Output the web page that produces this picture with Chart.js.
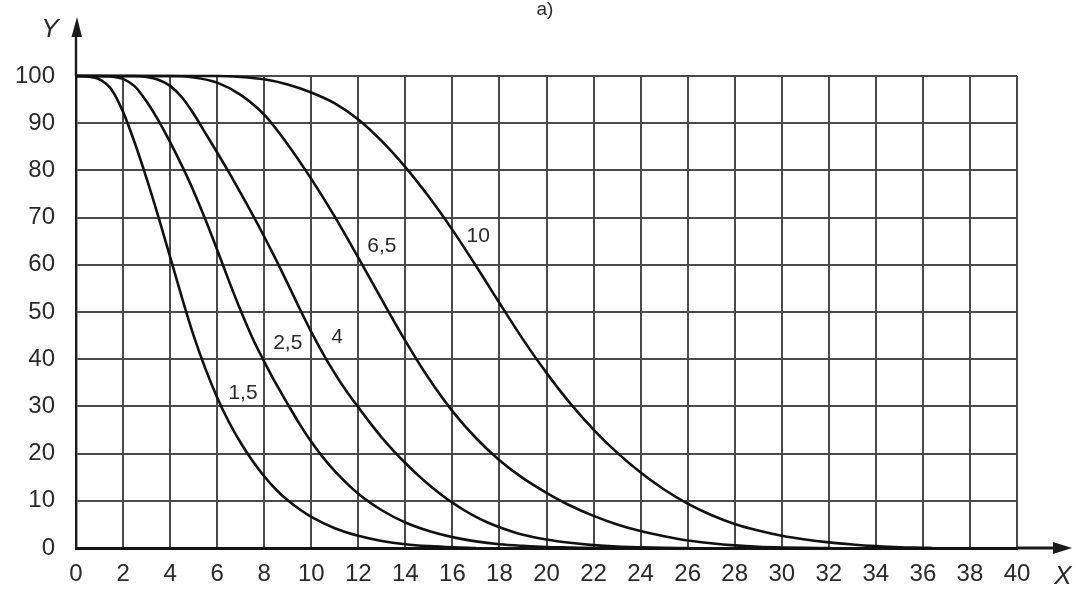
<!DOCTYPE html>
<html>
<head>
<meta charset="utf-8">
<script src="https://cdn.jsdelivr.net/npm/chart.js@4/dist/chart.umd.min.js"></script>
<style>
  html, body { margin: 0; padding: 0; background: #ffffff; }
  #wrap { width: 1076px; height: 592px; position: relative; }
</style>
</head>
<body>
<div id="wrap"><canvas id="c" width="1076" height="592"></canvas></div>
<script>
// ---- Data ----
const xTicks = [0,2,4,6,8,10,12,14,16,18,20,22,24,26,28,30,32,34,36,38,40];
const yTicks = [0,10,20,30,40,50,60,70,80,90,100];

const curveNames = ['1,5', '2,5', '4', '6,5', '10'];

const curve15X = [0,0.5,1,1.5,2,2.5,3,3.5,4,4.5,5,5.5,6,6.5,7,7.5,8,8.5,9,9.5,10,11,12,13,14,15,16,17];
const curve15Y = [100,99.9,99.3,97.2,92.4,85.8,78.3,70.2,61.7,53.1,45.0,38.0,31.9,26.7,22.3,18.5,15.2,12.4,10.1,8.2,6.6,4.2,2.6,1.5,0.8,0.4,0.15,0];

const curve25X = [0,1,1.5,2,2.5,3,3.5,4,4.5,5,5.5,6,6.5,7,7.5,8,8.5,9,9.5,10,10.5,11,12,13,14,15,16,17,18,19,20,21,22];
const curve25Y = [100,100,99.9,99.4,97.8,94.6,90.6,86.0,81.0,75.6,69.6,63.2,56.6,50.3,44.5,39.5,34.8,30.5,26.3,22.5,19.2,16.3,11.5,8.0,5.4,3.6,2.3,1.4,0.8,0.45,0.2,0.1,0];

const curve4X = [0,2.5,3,3.5,4,4.5,5,5.5,6,6.5,7,7.5,8,8.5,9,9.5,10,10.5,11,11.5,12,12.5,13,13.5,14,14.5,15,15.5,16,16.5,17,17.5,18,19,20,21,22,23,24,25,26];
const curve4Y = [100,100,99.8,99.2,97.9,95.5,92.0,87.9,83.8,79.6,75.2,70.7,66.0,61.1,56.0,50.8,45.8,41.2,37.0,33.2,29.8,26.5,23.4,20.6,18.0,15.6,13.4,11.4,9.6,8.0,6.6,5.4,4.4,2.8,1.8,1.1,0.6,0.3,0.15,0.05,0];

const curve65X = [0,4,5,6,7,8,9,10,11,12,13,14,15,16,17,18,19,20,21,22,23,24,25,26,27,28,29,30,31,32];
const curve65Y = [100,100,99.7,98.6,96.0,91.8,85.5,78.2,70.2,61.5,52.6,43.9,35.9,29.0,23.3,18.6,14.8,11.7,9.0,6.8,5.0,3.6,2.5,1.6,1.0,0.55,0.25,0.1,0.03,0];

const curve10X = [0,6,7,8,9,10,11,12,13,14,15,16,17,18,19,20,21,22,23,24,25,26,27,28,29,30,31,32,33,34,35,36,36.4];
const curve10Y = [100,100,99.8,99.3,98.2,96.5,94.2,90.8,86.2,80.7,74.4,67.4,59.8,51.9,44.2,37.1,30.7,25.1,20.2,16.0,12.4,9.4,7.0,5.1,3.7,2.6,1.8,1.2,0.75,0.4,0.15,0.05,0];

// ---- Build datasets ----
const seriesX = [curve15X, curve25X, curve4X, curve65X, curve10X];
const seriesY = [curve15Y, curve25Y, curve4Y, curve65Y, curve10Y];
const datasets = seriesX.map((xs, i) => ({
  label: curveNames[i],
  data: xs.map((v, k) => ({ x: v, y: seriesY[i][k] })),
  borderColor: '#111111',
  borderWidth: 2.6,
  pointRadius: 0,
  fill: false,
  cubicInterpolationMode: 'monotone',
  clip: false
}));

// label anchors (data coordinates) for the curve captions
const captionAnchors = [
  { x: 7.1,  y: 32.8 },
  { x: 9.0,  y: 43.4 },
  { x: 11.1, y: 44.6 },
  { x: 13.0, y: 63.9 },
  { x: 17.1, y: 66.1 }
];

const FONT = "'Liberation Sans', Arial, Helvetica, sans-serif";

const decor = {
  id: 'decor',
  afterDraw(chart) {
    const { ctx, chartArea, scales } = chart;
    const { left, right, top, bottom } = chartArea;
    ctx.save();
    // Y axis extension with arrow
    ctx.strokeStyle = '#1a1a1a';
    ctx.fillStyle = '#1a1a1a';
    ctx.lineWidth = 2.4;
    ctx.beginPath();
    ctx.moveTo(left, top);
    ctx.lineTo(left, 30);
    ctx.stroke();
    ctx.beginPath();
    ctx.moveTo(left + 1, 17);
    ctx.lineTo(left - 4.5, 37);
    ctx.lineTo(left + 6, 37);
    ctx.closePath();
    ctx.fill();
    // X axis extension with arrow
    ctx.lineWidth = 3;
    ctx.beginPath();
    ctx.moveTo(right, bottom);
    ctx.lineTo(1058, bottom);
    ctx.stroke();
    ctx.beginPath();
    ctx.moveTo(1072, bottom);
    ctx.lineTo(1053, bottom - 6);
    ctx.lineTo(1053, bottom + 6);
    ctx.closePath();
    ctx.fill();

    // Axis letters
    ctx.fillStyle = '#2a2a2a';
    ctx.textAlign = 'center';
    ctx.textBaseline = 'middle';
    ctx.font = 'italic 26px ' + FONT;
    ctx.fillText('Y', 50, 30);
    ctx.fillText('X', 1063, 577);

    // Title
    ctx.font = '19px ' + FONT;
    ctx.fillText('а)', 545, 10);

    // Curve captions
    ctx.font = '21px ' + FONT;
    captionAnchors.forEach((a, i) => {
      const px = scales.x.getPixelForValue(a.x);
      const py = scales.y.getPixelForValue(a.y);
      ctx.fillText(curveNames[i], px, py);
    });
    ctx.restore();
  }
};

new Chart(document.getElementById('c'), {
  type: 'line',
  data: { datasets },
  options: {
    responsive: false,
    animation: false,
    devicePixelRatio: 1,
    layout: { padding: { top: 76, right: 59, bottom: 0, left: 0 } },
    plugins: { legend: { display: false }, tooltip: { enabled: false }, title: { display: false } },
    scales: {
      x: {
        type: 'linear',
        min: 0, max: 40,
        afterBuildTicks: (s) => { s.ticks = xTicks.map(v => ({ value: v })); },
        afterFit: (s) => { s.height = 44; },
        ticks: { color: '#2a2a2a', font: { family: FONT, size: 24 }, padding: 12, maxRotation: 0, autoSkip: false },
        grid: { color: '#4a4a4a', lineWidth: 2, drawTicks: false },
        border: { display: true, color: '#141414', width: 3 }
      },
      y: {
        type: 'linear',
        min: 0, max: 100,
        afterBuildTicks: (s) => { s.ticks = yTicks.map(v => ({ value: v })); },
        afterFit: (s) => { s.width = 76; },
        ticks: { color: '#2a2a2a', font: { family: FONT, size: 24 }, padding: 21, autoSkip: false },
        grid: { color: '#4a4a4a', lineWidth: 2, drawTicks: false },
        border: { display: true, color: '#1a1a1a', width: 2.4 }
      }
    }
  },
  plugins: [decor]
});
</script>
</body>
</html>
